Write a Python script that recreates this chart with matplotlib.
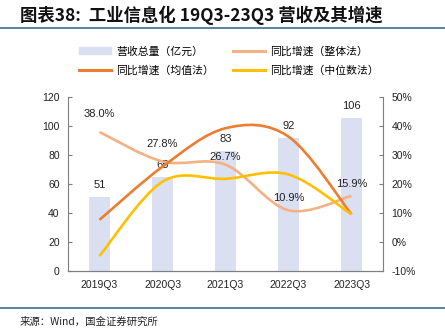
import matplotlib.pyplot as plt
from matplotlib.path import Path
from matplotlib.patches import PathPatch
from matplotlib.lines import Line2D
import numpy as np

plt.rcParams['font.family'] = ['Liberation Sans', 'Noto Sans CJK SC', 'DejaVu Sans']

quarters = ['2019Q3', '2020Q3', '2021Q3', '2022Q3', '2023Q3']
revenue = [51, 65, 83, 92, 106]                 # 营收总量（亿元）
growth_total = [38.0, 27.8, 26.7, 10.9, 15.9]   # 整体法 %
growth_mean = [7.6, 26.0, 39.3, 36.4, 9.5]      # 均值法 %
growth_median = [-4.9, 20.8, 21.8, 23.3, 9.5]   # 中位数法 %

c_bar = '#DAE0F2'
c_total = '#F4B183'
c_mean = '#ED7D31'
c_median = '#FFC000'
c_axis = '#7F7F7F'


def smooth_path(xs, ys):
    # excel style smoothed line: bezier segments with catmull-rom control points
    pts = np.column_stack([xs, ys]).astype(float)
    verts = [pts[0]]
    codes = [Path.MOVETO]
    n = len(pts)
    for i in range(n - 1):
        p0 = pts[max(i - 1, 0)]
        p1 = pts[i]
        p2 = pts[i + 1]
        p3 = pts[min(i + 2, n - 1)]
        c1 = p1 + (p2 - p0) / 6.0
        c2 = p2 - (p3 - p1) / 6.0
        verts += [c1, c2, p2]
        codes += [Path.CURVE4] * 3
    return Path(verts, codes)


fig = plt.figure(figsize=(4.45, 3.32), dpi=100)
ax = fig.add_axes([0.1528, 0.1846, 0.7079, 0.5223])
ax2 = ax.twinx()

x = np.arange(len(quarters))
ax.bar(x, revenue, width=0.32, color=c_bar, zorder=1)
for xi, v in zip(x, revenue):
    ax.annotate(str(v), (xi, v), xytext=(0, 5), textcoords='offset points',
                ha='center', va='bottom', fontsize=8, color='#222222')

ax.set_xlim(-0.5, 4.5)
ax.set_ylim(0, 120)
ax.set_yticks(range(0, 121, 20))
ax.set_xticks(x)
ax.set_xticklabels(quarters)

ax2.set_ylim(-10, 50)
ax2.set_yticks(range(-10, 51, 10))
ax2.set_yticklabels([f'{t}%' for t in range(-10, 51, 10)])

for series, col in [(growth_total, c_total), (growth_mean, c_mean), (growth_median, c_median)]:
    ax2.add_patch(PathPatch(smooth_path(x, series), fill=False, edgecolor=col,
                            lw=1.9, capstyle='butt', zorder=3))

pct_offsets = [9, 9, 2, 5, 5]
for xi, v, off in zip(x, growth_total, pct_offsets):
    ax2.annotate(f'{v:.1f}%', (xi, v), xytext=(0, off), textcoords='offset points',
                 ha='center', va='bottom', fontsize=8, color='#222222')

for a in (ax, ax2):
    for s in a.spines.values():
        s.set_color(c_axis)
    a.spines['top'].set_visible(False)
    a.tick_params(axis='y', direction='in', length=3, color=c_axis, labelsize=7.5,
                  labelcolor='#222222', pad=6)
ax2.spines['left'].set_visible(False)
ax.spines['right'].set_visible(False)
ax.tick_params(axis='x', length=0, labelsize=7.5, labelcolor='#222222', pad=7)

handles = [
    plt.Rectangle((0, 0), 1, 1, color=c_bar),
    Line2D([], [], color=c_mean, lw=2.2),
    Line2D([], [], color=c_total, lw=2.2),
    Line2D([], [], color=c_median, lw=2.2),
]
labels = ['营收总量（亿元）', '同比增速（均值法）', '同比增速（整体法）', '同比增速（中位数法）']
fig.legend(handles, labels, ncol=2, loc='center', bbox_to_anchor=(0.514, 0.816),
           frameon=False, handlelength=3.0, handleheight=0.6, handletextpad=0.46,
           columnspacing=1.7, labelspacing=0.8,
           prop={'family': ['Noto Sans CJK SC'], 'size': 7.8})

fig.text(0.045, 0.955, '图表38:  工业信息化 19Q3-23Q3 营收及其增速', fontsize=12.5,
         fontweight='bold', family=['Noto Sans CJK SC'], va='center', color='#111111')
fig.add_artist(Line2D([0, 1], [0.915, 0.915], color='#3D6E91', lw=1.2))
fig.add_artist(Line2D([0, 1], [0.072, 0.072], color='#3D6E91', lw=1.2))
fig.text(0.045, 0.03, '来源：Wind，国金证券研究所', fontsize=7.5,
         family=['Noto Sans CJK SC', 'Liberation Sans'], va='center', color='#222222')

fig.savefig('out.png', dpi=100)
